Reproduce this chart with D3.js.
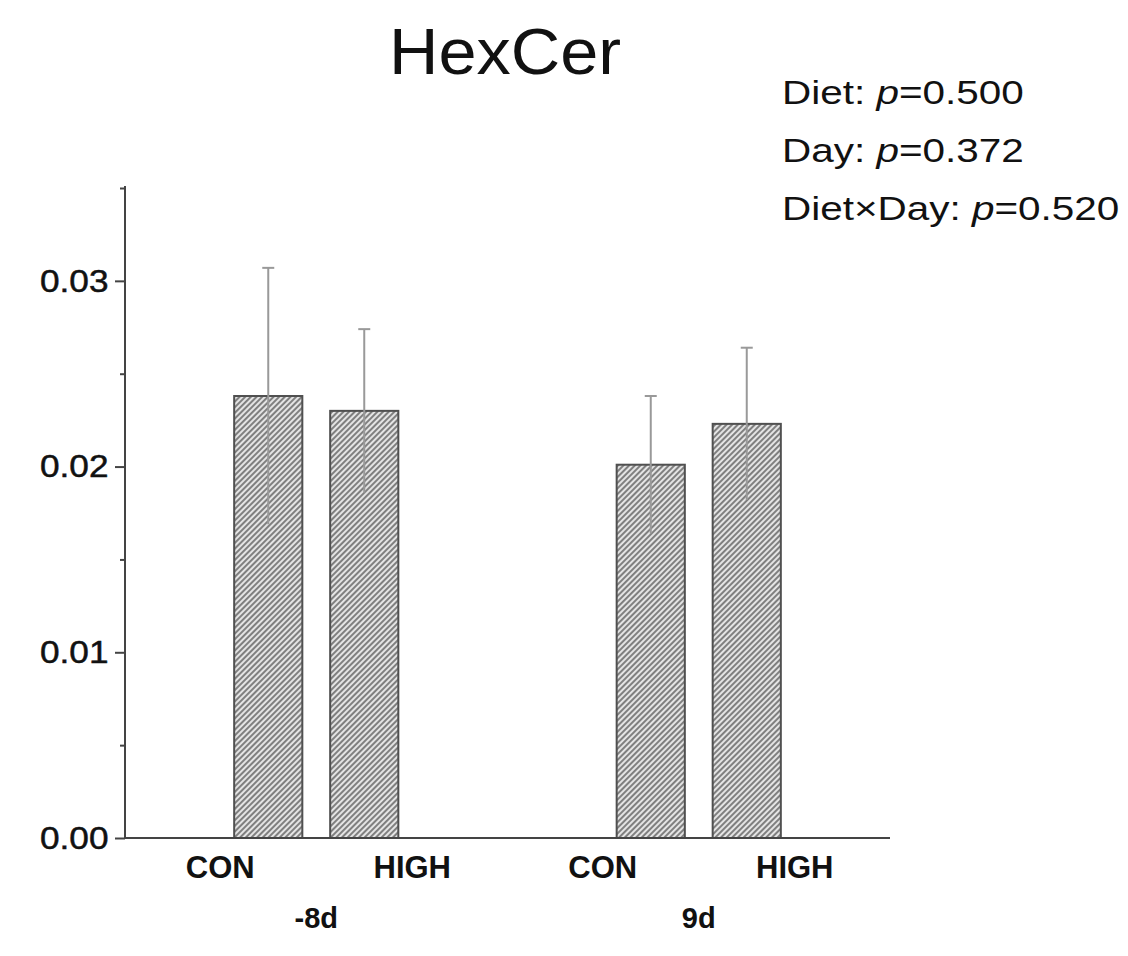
<!DOCTYPE html>
<meta charset="utf-8">
<head>
  <script src="https://d3js.org/d3.v7.min.js"></script>
<style>
body { margin: 0; background: #fff; }
text { font-family: "Liberation Sans", Arial, sans-serif; fill: #111; }
.cat { font-weight: bold; font-size: 31px; }
.grp { font-weight: bold; font-size: 29px; }
</style>
</head>
<body>
<script>

// Data
var groups = ["-8d", "9d"];
var diets = ["CON", "HIGH"];
var means = [[0.0238, 0.0230], [0.0201, 0.0223]];
var errors = [[0.0069, 0.0044], [0.0037, 0.0041]];
var yTicks = [0, 0.01, 0.02, 0.03];
var yMinor = [0.005, 0.015, 0.025, 0.035];
var stats = ["Diet: ", "Day: ", "Diet\u00d7Day: "];
var pvals = ["0.500", "0.372", "0.520"];

var svg = d3.select("body").append("svg")
    .attr("width", 1128)
    .attr("height", 956);

// Hatch pattern
var pat = svg.append("defs").append("pattern")
    .attr("id", "hatch")
    .attr("patternUnits", "userSpaceOnUse")
    .attr("width", 4)
    .attr("height", 4)
    .attr("patternTransform", "rotate(45)");
pat.append("rect").attr("width", 4).attr("height", 4).attr("fill", "#e4e4e4");
pat.append("line")
    .attr("x1", 2).attr("y1", 0).attr("x2", 2).attr("y2", 4)
    .attr("stroke", "#666").attr("stroke-width", 1.6);

// Scales
var y = d3.scaleLinear().domain([0, 0.035]).range([838, 188]);
var x0 = d3.scalePoint().domain(groups).range([125, 890]).padding(0.5);
var x1 = d3.scaleBand().domain(diets).range([-96, 96]).paddingInner(0.29).paddingOuter(0.145);
var xl = d3.scalePoint().domain(diets).range([-96, 96]);

// Title (original text is a little stretched sideways)
svg.append("text")
    .attr("transform", "translate(505,74) scale(1.07,1)")
    .attr("text-anchor", "middle")
    .style("font-size", "64px")
    .text("HexCer");

// Stats text
stats.forEach(function(s, i) {
  var t = svg.append("text")
      .attr("transform", "translate(782," + (104 + i * 58) + ") scale(1.19,1)")
      .style("font-size", "34px");
  t.append("tspan").text(s);
  t.append("tspan").style("font-style", "italic").text("p");
  t.append("tspan").text("=" + pvals[i]);
});

// Y axis
var yAxis = svg.append("g")
    .attr("transform", "translate(125,0)")
    .call(d3.axisLeft(y).tickValues(yTicks).tickFormat(d3.format(".2f")).tickSize(10).tickPadding(5));
yAxis.select(".domain").remove();
yAxis.selectAll("text").style("font-size", "32px").attr("fill", "#111")
    .style("font-family", "'Liberation Sans', Arial, sans-serif")
    .style("stroke", "#111").style("stroke-width", 0.5)
    .attr("transform", "scale(1.1,1)");
yAxis.selectAll("line").attr("stroke", "#444").attr("stroke-width", 2);
svg.append("g")
    .attr("transform", "translate(125,0)")
    .call(d3.axisLeft(y).tickValues(yMinor).tickFormat("").tickSize(5))
    .call(function(g) { g.select(".domain").remove(); })
    .selectAll("line").attr("stroke", "#444").attr("stroke-width", 2);
svg.append("line")
    .attr("x1", 125).attr("x2", 125)
    .attr("y1", y(0.035) - 2).attr("y2", y(0) + 1)
    .attr("stroke", "#444").attr("stroke-width", 2);

// Bars
groups.forEach(function(g, gi) {
  var gx = x0(g);
  diets.forEach(function(d, di) {
    var m = means[gi][di], e = errors[gi][di];
    var bx = gx + x1(d);
    svg.append("rect")
        .attr("x", bx)
        .attr("y", y(m))
        .attr("width", x1.bandwidth())
        .attr("height", y(0) - y(m))
        .attr("fill", "url(#hatch)")
        .attr("stroke", "#505050")
        .attr("stroke-width", 2);
    var cx = bx + x1.bandwidth() / 2;
    svg.append("line")
        .attr("x1", cx).attr("x2", cx)
        .attr("y1", y(m - e)).attr("y2", y(m + e))
        .attr("stroke", "#999").attr("stroke-width", 2);
    svg.append("line")
        .attr("x1", cx - 6).attr("x2", cx + 6)
        .attr("y1", y(m + e)).attr("y2", y(m + e))
        .attr("stroke", "#999").attr("stroke-width", 2);

    // category label
    svg.append("text")
        .attr("class", "cat")
        .attr("x", gx + xl(d)).attr("y", 878)
        .attr("text-anchor", "middle")
        .text(d);
  });
  svg.append("text")
      .attr("class", "grp")
      .attr("x", gx).attr("y", 928)
      .attr("text-anchor", "middle")
      .text(g);
});

// X axis line
svg.append("line")
    .attr("x1", 125).attr("x2", 890)
    .attr("y1", y(0)).attr("y2", y(0))
    .attr("stroke", "#444").attr("stroke-width", 2);

</script>
</body>
